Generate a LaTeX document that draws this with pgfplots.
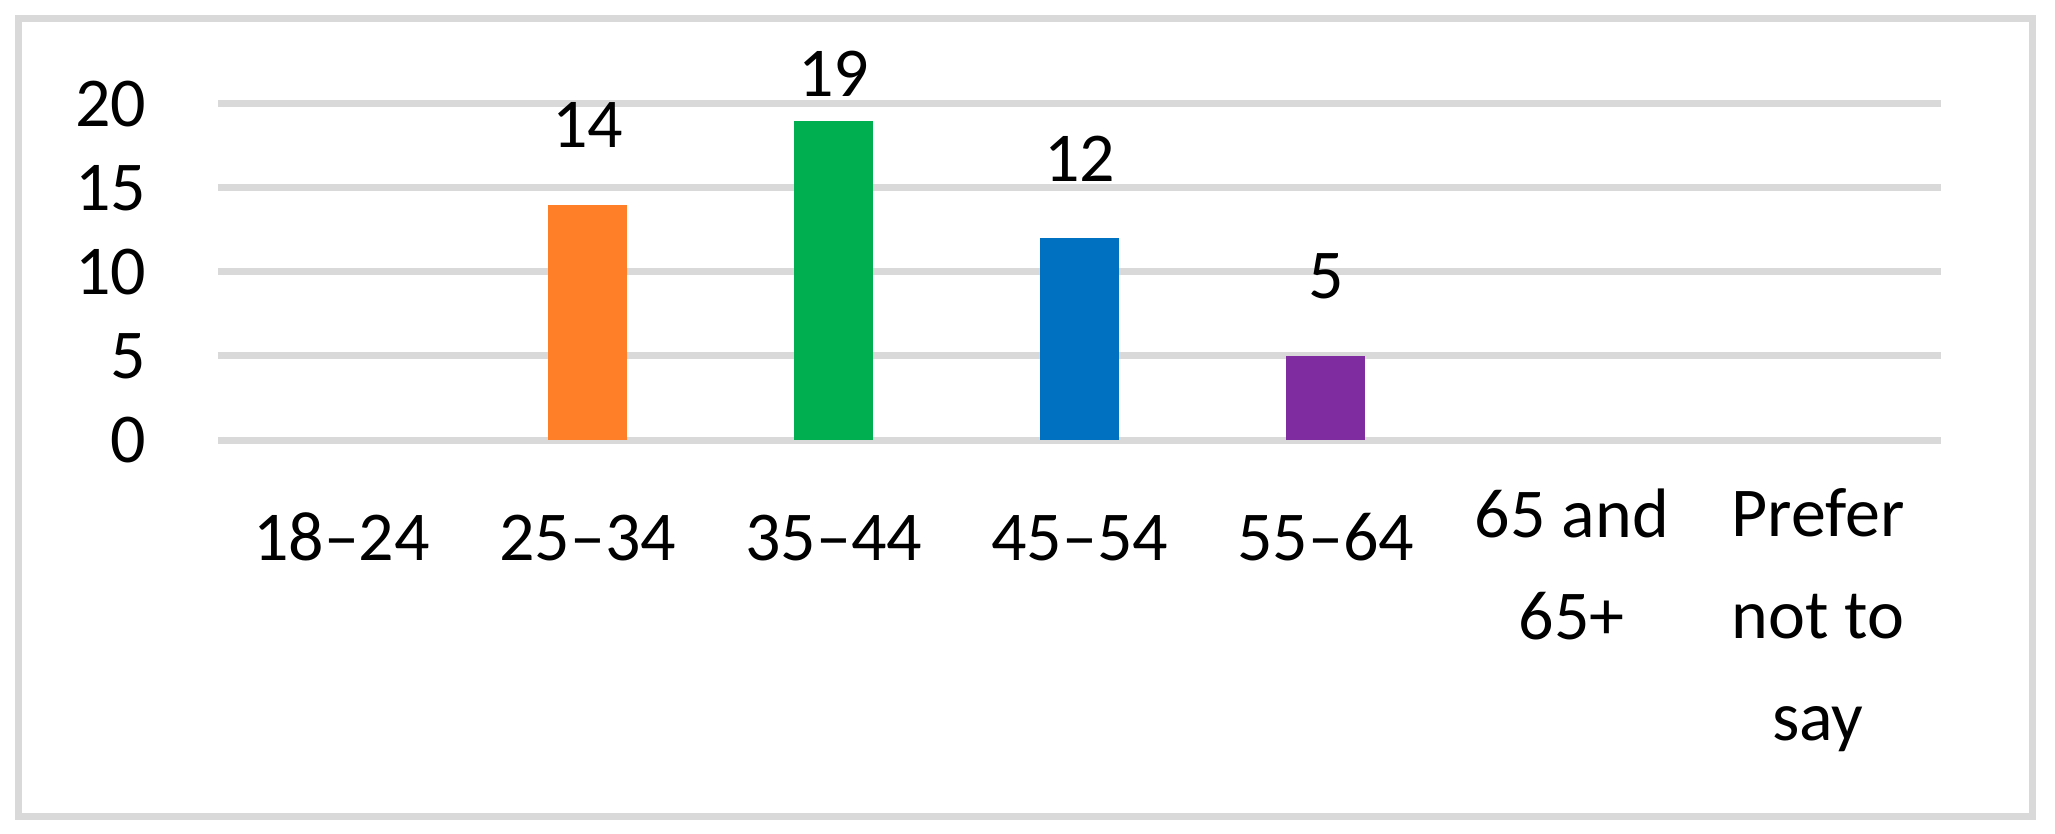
\documentclass[border=0pt]{standalone}
\usepackage{fontspec}
\setmainfont{Carlito}
\usepackage{pgfplots}
\pgfplotsset{compat=1.18}

\definecolor{gridgray}{HTML}{D9D9D9}
\definecolor{barorange}{HTML}{FE7F27}
\definecolor{bargreen}{HTML}{00B050}
\definecolor{barblue}{HTML}{0070C0}
\definecolor{barpurple}{HTML}{7F2CA0}

\begin{document}
\fontsize{17.5pt}{22.5pt}\selectfont
\begin{tikzpicture}
  % page = 2055x834 px at 4 px per pt, origin at the lower left of the plot area
  \useasboundingbox (-54.625pt,-98.5pt) rectangle (459.125pt,110pt);
  \draw[gridgray, line width=1.75pt] (-50pt,-94.125pt) rectangle (453.5pt,105.375pt);
  \begin{axis}[
      at={(0,0)}, anchor=south west,
      scale only axis,
      width=430.625pt, height=84pt,
      ybar, bar width=19.75pt, bar shift=0pt,
      xmin=-0.5, xmax=6.5,
      ymin=0, ymax=20,
      xtick={0,...,6},
      xticklabels={18–24,25–34,35–44,45–54,55–64,{65 and\\65+},{Prefer\\not to\\say}},
      ytick={0,5,...,20},
      ymajorgrids,
      grid style={gridgray, line width=1.75pt},
      axis line style={draw=none},
      major tick length=0pt,
      /pgf/number format/assume math mode=true,
      % strut fixes the first baseline 30pt below the plot area
      xticklabel style={align=center, anchor=north, inner sep=0pt,
        font=\fontsize{17.5pt}{25.5pt}\selectfont,
        execute at begin node=\strut, yshift=-12pt},
      yticklabel style={anchor=east, inner sep=0pt, xshift=-17.9pt},
      nodes near coords,
      every node near coord/.append style={anchor=base, inner sep=0pt, yshift=14.25pt, black},
    ]
    \addplot[fill=barorange, draw=none] coordinates {(1,14)};
    \addplot[fill=bargreen, draw=none, nodes near coords style={yshift=-8.25pt}] coordinates {(2,19)};
    \addplot[fill=barblue, draw=none] coordinates {(3,12)};
    \addplot[fill=barpurple, draw=none] coordinates {(4,5)};
  \end{axis}
\end{tikzpicture}
\end{document}
